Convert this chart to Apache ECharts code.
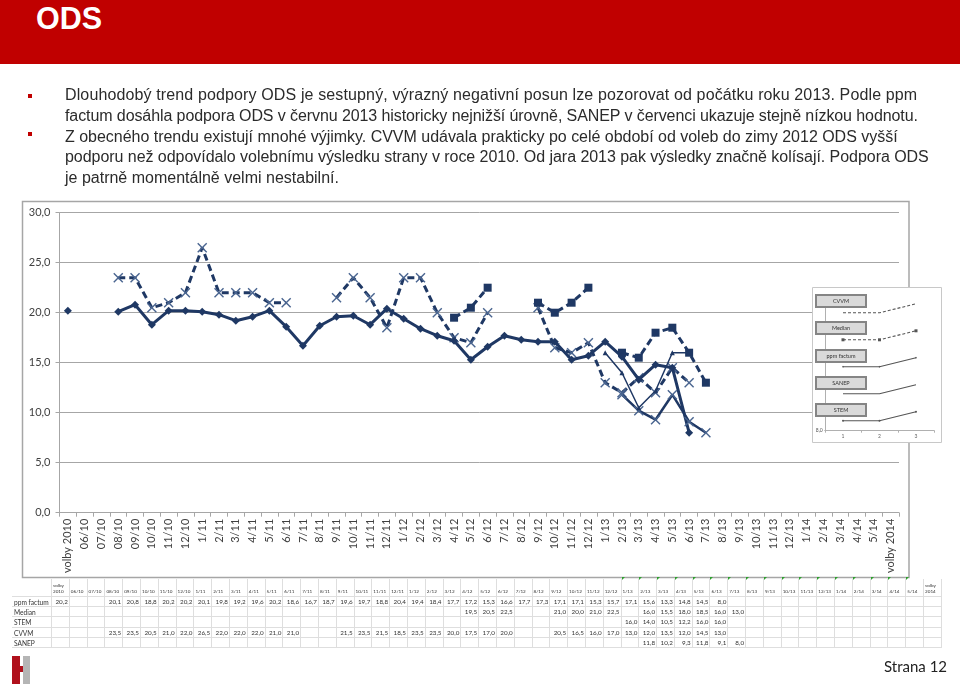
<!DOCTYPE html>
<html><head><meta charset="utf-8">
<script src="https://cdn.jsdelivr.net/npm/echarts/dist/echarts.min.js"></script>
<style>
html,body{margin:0;padding:0;width:960px;height:687px;overflow:hidden;background:#fff;}
#chart{position:absolute;left:0;top:0;width:960px;height:687px;}
#header{position:absolute;left:0;top:0;width:960px;height:64px;background:#C00000;z-index:5;}
#header span{position:absolute;left:36px;top:1px;line-height:30px;color:#fff;font:bold 30.5px 'Liberation Sans',Arial,sans-serif;}
.bl{position:absolute;left:65px;white-space:nowrap;font:16px/20px 'Liberation Sans',Arial,sans-serif;color:#2b2b2b;z-index:5;}
.bul{position:absolute;left:28px;width:4px;height:4px;background:#C00000;z-index:5;}
#tbl{position:absolute;left:12px;top:579px;display:grid;grid-template-columns:40px repeat(50,17.8px);grid-template-rows:18px repeat(5,10.2px);z-index:5;font-family:Lato,'Open Sans',sans-serif;color:#333;}
#tbl div{box-sizing:border-box;border-right:1px solid #dedede;border-bottom:1px solid #dedede;position:relative;overflow:visible;white-space:nowrap;}
#tbl .h{font-size:4.6px;line-height:5.5px;padding:0 0 2px 1px;display:flex;flex-direction:column;justify-content:flex-end;}
#tbl .v{font-size:6.3px;line-height:10px;text-align:right;padding-right:1px;}
#tbl .l{font-size:6.6px;line-height:10px;padding-left:2px;}
#tbl .g::before{content:'';position:absolute;left:0;top:-2px;border-top:3px solid #2ea02e;border-right:3px solid transparent;}
#logoR{position:absolute;left:12px;top:656px;width:8px;height:28px;background:#b0101c;z-index:5;}
#logoN{position:absolute;left:20px;top:666px;width:3px;height:6px;background:#b0101c;z-index:5;}
#logoG{position:absolute;left:23px;top:656px;width:7px;height:28px;background:#b5b5b5;z-index:5;}
#page{position:absolute;left:884px;top:657px;font:15px Lato,'Open Sans',sans-serif;color:#222;z-index:5;}
</style></head>
<body>
<div id="chart"></div>
<div id="header"><span>ODS</span></div>
<div class="bul" style="top:94px"></div>
<div class="bul" style="top:132px"></div>
<div class="bl" style="top:85px;letter-spacing:0.13px">Dlouhodobý trend podpory ODS je sestupný, výrazný negativní posun lze pozorovat od počátku roku 2013. Podle ppm</div>
<div class="bl" style="top:105.5px;letter-spacing:-0.09px">factum dosáhla podpora ODS v červnu 2013 historicky nejnižší úrovně, SANEP v červenci ukazuje stejně nízkou hodnotu.</div>
<div class="bl" style="top:126.5px;letter-spacing:-0.02px">Z obecného trendu existují mnohé výjimky. CVVM udávala prakticky po celé období od voleb do zimy 2012 ODS vyšší</div>
<div class="bl" style="top:147px;letter-spacing:-0.045px">podporu než odpovídalo volebnímu výsledku strany v roce 2010. Od jara 2013 pak výsledky značně kolísají. Podpora ODS</div>
<div class="bl" style="top:167.5px">je patrně momentálně velmi nestabilní.</div>
<div id="tbl"></div>
<div id="logoR"></div><div id="logoN"></div><div id="logoG"></div>
<div id="page">Strana 12</div>
<script>
const categories = ['volby 2010','06/10','07/10','08/10','09/10','10/10','11/10','12/10',
 '1/11','2/11','3/11','4/11','5/11','6/11','7/11','8/11','9/11','10/11','11/11','12/11',
 '1/12','2/12','3/12','4/12','5/12','6/12','7/12','8/12','9/12','10/12','11/12','12/12',
 '1/13','2/13','3/13','4/13','5/13','6/13','7/13','8/13','9/13','10/13','11/13','12/13',
 '1/14','2/14','3/14','4/14','5/14','volby 2014'];
const _ = null;
const ppmFactum = [20.2,_,_,20.1,20.8,18.8,20.2,20.2,
 20.1,19.8,19.2,19.6,20.2,18.6,16.7,18.7,19.6,19.7,18.8,20.4,
 19.4,18.4,17.7,17.2,15.3,16.6,17.7,17.3,17.1,17.1,15.3,15.7,
 17.1,15.6,13.3,14.8,14.5,8.0,_,_,_,_,_,_,
 _,_,_,_,_,_];
const median = [_,_,_,_,_,_,_,_,
 _,_,_,_,_,_,_,_,_,_,_,_,
 _,_,_,19.5,20.5,22.5,_,_,21.0,20.0,21.0,22.5,
 _,16.0,15.5,18.0,18.5,16.0,13.0,_,_,_,_,_,
 _,_,_,_,_,_];
const stem = [_,_,_,_,_,_,_,_,
 _,_,_,_,_,_,_,_,_,_,_,_,
 _,_,_,_,_,_,_,_,_,_,_,_,
 16.0,14.0,10.5,12.2,16.0,16.0,_,_,_,_,_,_,
 _,_,_,_,_,_];
const cvvm = [_,_,_,23.5,23.5,20.5,21.0,22.0,
 26.5,22.0,22.0,22.0,21.0,21.0,_,_,21.5,23.5,21.5,18.5,
 23.5,23.5,20.0,17.5,17.0,20.0,_,_,20.5,16.5,16.0,17.0,
 13.0,12.0,13.5,12.0,14.5,13.0,_,_,_,_,_,_,
 _,_,_,_,_,_];
const sanep = [_,_,_,_,_,_,_,_,
 _,_,_,_,_,_,_,_,_,_,_,_,
 _,_,_,_,_,_,_,_,_,_,_,_,
 _,11.8,10.2,9.3,11.8,9.1,8.0,_,_,_,_,_,
 _,_,_,_,_,_];
const yTicks = [0,5,10,15,20,25,30];
// legend picture (small sample chart)
const miniCats = ['1','2','3'];
const miniCVVM = [21.1,21.1,22.1];
const miniMedian = [18.1,18.1,19.1];
const miniPpm = [15.1,15.1,16.1];
const miniSanep = [12.1,12.1,13.1];
const miniStem = [9.1,9.1,10.1];
const legendNames = ['CVVM','Median','ppm factum','SANEP','STEM'];

// ---- table ----
const fmt = v => v == null ? '' : v.toFixed(1).replace('.', ',');
(function buildTable(){
  const t = document.getElementById('tbl');
  let h = '<div class="h"></div>';
  categories.forEach((c, i) => {
    const parts = c.startsWith('volby') ? c.split(' ') : [c];
    const g = (i >= 32 && i <= 48) ? ' g' : '';
    h += '<div class="h' + g + '">' + parts.map(p => '<span>' + p + '</span>').join('') + '</div>';
  });
  const rows = [['ppm factum', ppmFactum], ['Median', median], ['STEM', stem], ['CVVM', cvvm], ['SANEP', sanep]];
  rows.forEach(r => {
    h += '<div class="l">' + r[0] + '</div>';
    r[1].forEach(v => { h += '<div class="v">' + fmt(v) + '</div>'; });
  });
  t.innerHTML = h;
})();

const C = '#1F3864';
const X = 'path://M0,1L1,0L5,4L9,0L10,1L6,5L10,9L9,10L5,6L1,10L0,9L4,5Z';
const chart = echarts.init(document.getElementById('chart'));
const lblFont = 'Lato, "Open Sans", sans-serif';

const boxTops = [295, 322, 350, 377, 404];
const graphic = [
  {type:'rect', shape:{x:22.5, y:201.5, width:886.5, height:376}, style:{fill:'none', stroke:'#a6a6a6', lineWidth:1.5}, z:1},
  {type:'rect', shape:{x:812.5, y:287.5, width:129, height:155}, style:{fill:'#fff', stroke:'#c8c8c8', lineWidth:1}, z:50}
];
legendNames.forEach((n, i) => {
  graphic.push({type:'rect', shape:{x:816, y:boxTops[i], width:50, height:12}, style:{fill:'#dadada', stroke:'#858585', lineWidth:2}, z:80});
  graphic.push({type:'text', style:{text:n, x:841, y:boxTops[i] + 6, textAlign:'center', textVerticalAlign:'middle', fill:'#333', font:'5.5px ' + lblFont}, z:81});
});

const mini = (data, dashed, sym) => ({
  type:'line', xAxisIndex:1, yAxisIndex:1, data:data, z:70,
  symbol: sym || 'none', symbolSize: sym === 'rect' ? 3 : 2,
  lineStyle:{color:'#555', width:1.1, type: dashed ? [3,2] : 'solid'},
  itemStyle:{color:'#555'}, silent:true
});

chart.setOption({
  animation:false,
  graphic: graphic,
  grid:[
    {left:59.5, top:212.7, width:839.5, height:300},
    {left:824.75, top:295.7, width:109.5, height:135}
  ],
  xAxis:[
    {type:'category', data:categories, gridIndex:0, boundaryGap:true,
     axisLine:{lineStyle:{color:'#a6a6a6', width:1}},
     axisTick:{show:true, length:4, interval:0, lineStyle:{color:'#a6a6a6'}},
     axisLabel:{rotate:90, interval:0, fontSize:11, color:'#404040', fontFamily:lblFont, margin:6}},
    {type:'category', data:miniCats, gridIndex:1, boundaryGap:true, z:60,
     axisLine:{lineStyle:{color:'#b0b0b0'}},
     axisTick:{show:true, length:2, lineStyle:{color:'#b0b0b0'}},
     axisLabel:{fontSize:5, color:'#666', margin:3, fontFamily:lblFont}}
  ],
  yAxis:[
    {type:'value', gridIndex:0, min:yTicks[0], max:yTicks[yTicks.length-1], interval:5,
     axisLine:{show:true, lineStyle:{color:'#a6a6a6'}},
     axisTick:{show:true, length:4, lineStyle:{color:'#a6a6a6'}},
     splitLine:{lineStyle:{color:'#a6a6a6', width:1}},
     axisLabel:{formatter:v => v.toFixed(1).replace('.', ','), fontSize:11, color:'#404040', fontFamily:lblFont, margin:9}},
    {type:'value', gridIndex:1, min:8, max:23, z:60,
     axisLine:{show:true, lineStyle:{color:'#b0b0b0'}},
     axisTick:{show:false}, splitLine:{show:false},
     axisLabel:{showMinLabel:true, formatter:v => v === 8 ? '8,0' : '', fontSize:5, color:'#555', margin:2, fontFamily:lblFont}}
  ],
  series:[
    {name:'CVVM', type:'line', data:cvvm, connectNulls:false, symbol:X, symbolSize:10,
     lineStyle:{color:C, width:3, type:[7,4]}, itemStyle:{color:'#4a6590'}, z:3},
    {name:'Median', type:'line', data:median, connectNulls:false, symbol:'rect', symbolSize:8,
     lineStyle:{color:C, width:3, type:[7,4]}, itemStyle:{color:C}, z:3},
    {name:'ppm factum', type:'line', data:ppmFactum, connectNulls:false, symbol:'diamond', symbolSize:8,
     lineStyle:{color:C, width:3}, itemStyle:{color:C}, z:4},
    {name:'SANEP', type:'line', data:sanep, connectNulls:false, symbol:X, symbolSize:10,
     lineStyle:{color:C, width:2.5}, itemStyle:{color:'#4a6590'}, z:4},
    {name:'STEM', type:'line', data:stem, connectNulls:false, symbol:'triangle', symbolSize:5,
     lineStyle:{color:C, width:1.5}, itemStyle:{color:C}, z:4},
    mini(miniCVVM, true),
    mini(miniMedian, true, 'rect'),
    mini(miniPpm, false, 'diamond'),
    mini(miniSanep, false),
    mini(miniStem, false, 'circle')
  ]
});
</script>
</body></html>
